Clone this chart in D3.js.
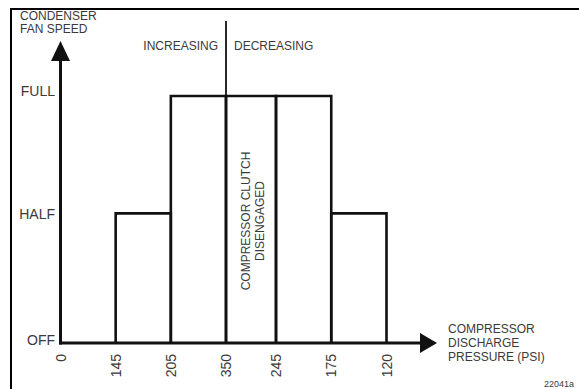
<!DOCTYPE html>
<html>
<head>
<meta charset="utf-8">
<script src="https://cdn.jsdelivr.net/npm/d3@7"></script>
<style>
  body { margin: 0; background: #fff; }
  svg { display: block; }
  text { font-family: "Liberation Sans", Arial, sans-serif; fill: #3a3a3a; }
</style>
</head>
<body>
<div id="chart"></div>
<script>
// pressure readings along the x axis (rising, then falling)
var pressureTicks = ["0", "145", "205", "350", "245", "175", "120"];
// fan speed levels
var levelNames = ["OFF", "HALF", "FULL"];
var levelValues = [0, 0.525, 1];
// fan speed between consecutive pressure ticks
var intervalLevels = ["OFF", "HALF", "FULL", "FULL", "FULL", "HALF"];

var width = 579, height = 389;
var ink = "#111";

var svg = d3.select("#chart").append("svg")
	.attr("width", width)
	.attr("height", height);

// frame (left and top only)
svg.append("path")
	.attr("d", "M11,389V9H579")
	.attr("fill", "none")
	.attr("stroke", "#000")
	.attr("stroke-width", 2);

var x = d3.scaleLinear().domain([0, 3, 4, 6]).range([60.5, 226, 276, 386.5]);
var y = d3.scaleLinear().domain([0, 1]).range([343, 96]);
var levelY = name => y(levelValues[levelNames.indexOf(name)]);

// step outline: one open box per interval above OFF
var boxes = intervalLevels
	.map((lvl, i) => ({ lvl: lvl, i: i }))
	.filter(d => d.lvl !== "OFF");

svg.append("g").selectAll("path")
	.data(boxes)
	.enter().append("path")
	.attr("d", d => "M" + x(d.i) + "," + y(0) + "V" + levelY(d.lvl) +
		"H" + x(d.i + 1) + "V" + y(0))
	.attr("fill", "none")
	.attr("stroke", ink)
	.attr("stroke-width", 2.6);

// increasing / decreasing divider at the peak
svg.append("line")
	.attr("x1", x(3)).attr("x2", x(3))
	.attr("y1", 21).attr("y2", y(0))
	.attr("stroke", ink)
	.attr("stroke-width", 1.8);

// axes with arrowheads
svg.append("line")
	.attr("x1", x(0)).attr("x2", x(0))
	.attr("y1", y(0) + 1.5).attr("y2", 60)
	.attr("stroke", ink).attr("stroke-width", 3);
svg.append("path")
	.attr("d", "M" + (x(0) - 9.5) + ",61L" + x(0) + ",41L" + (x(0) + 9.5) + ",61Z")
	.attr("fill", ink);

svg.append("line")
	.attr("x1", x(0) - 1.5).attr("x2", 421)
	.attr("y1", y(0)).attr("y2", y(0))
	.attr("stroke", ink).attr("stroke-width", 3);
svg.append("path")
	.attr("d", "M420," + (y(0) - 10) + "L437," + y(0) + "L420," + (y(0) + 10) + "Z")
	.attr("fill", ink);

// tick labels, rotated
svg.append("g").selectAll("text")
	.data(pressureTicks)
	.enter().append("text")
	.attr("transform", (d, i) => "translate(" + (x(i) + 5) + ",354) rotate(-90)")
	.attr("text-anchor", "end")
	.style("font-size", "14px")
	.text(d => d);

// level labels
var levelLabelY = { OFF: y(0) + 2, HALF: levelY("HALF") + 6, FULL: levelY("FULL") };
svg.append("g").selectAll("text")
	.data(levelNames)
	.enter().append("text")
	.attr("x", 55)
	.attr("y", d => levelLabelY[d])
	.attr("text-anchor", "end")
	.style("font-size", "14px")
	.text(d => d);

// axis titles
var small = "12px";
svg.append("text").attr("x", 20).attr("y", 20).style("font-size", small).text("CONDENSER");
svg.append("text").attr("x", 20).attr("y", 33).style("font-size", small).text("FAN SPEED");

svg.append("text").attr("x", x(3) - 8).attr("y", 50)
	.attr("text-anchor", "end").style("font-size", small).text("INCREASING");
svg.append("text").attr("x", x(3) + 8).attr("y", 50)
	.style("font-size", small).text("DECREASING");

var xTitle = ["COMPRESSOR", "DISCHARGE", "PRESSURE (PSI)"];
svg.append("g").selectAll("text")
	.data(xTitle)
	.enter().append("text")
	.attr("x", 448)
	.attr("y", (d, i) => 333 + i * 14)
	.style("font-size", small)
	.text(d => d);

// note in the peak column
var midX = (x(3) + x(4)) / 2;
var note = svg.append("text")
	.attr("transform", "translate(" + midX + ",221) rotate(-90)")
	.attr("text-anchor", "middle")
	.style("font-size", small);
note.append("tspan").attr("x", 0).attr("dy", -1).text("COMPRESSOR CLUTCH");
note.append("tspan").attr("x", 0).attr("dy", 13.5).text("DISENGAGED");

// figure id at the bottom right
svg.append("text").attr("x", 574).attr("y", 387)
	.attr("text-anchor", "end").style("font-size", "9px").text("22041a");
</script>
</body>
</html>
